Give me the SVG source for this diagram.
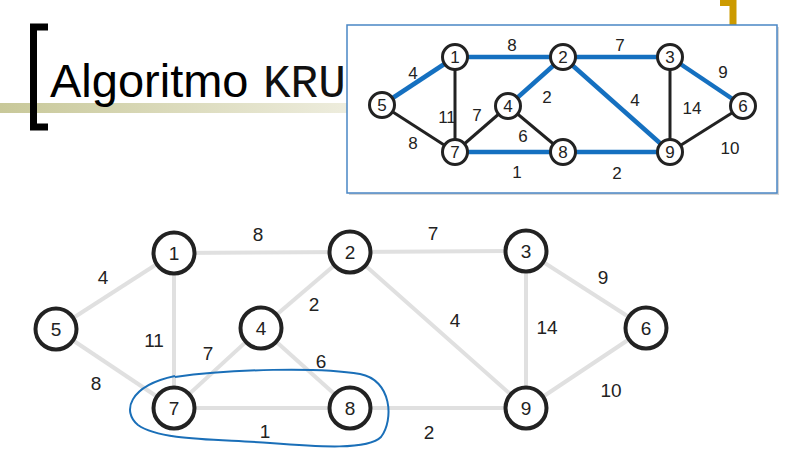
<svg xmlns="http://www.w3.org/2000/svg" width="787" height="467" viewBox="0 0 787 467">
<defs>
<linearGradient id="bar" x1="0" y1="0" x2="1" y2="0">
<stop offset="0" stop-color="#c8c899"/>
<stop offset="1" stop-color="#efeee0"/>
</linearGradient>
<style>
text{font-family:"Liberation Sans",Arial,sans-serif;fill:#222}
text.title{font-size:47px;fill:#000}
text.mono{font-family:"Liberation Mono","Courier New",monospace;font-size:46px;fill:#111}
.lbl{font-size:19px;text-anchor:middle}
.ilbl{font-size:17px;text-anchor:middle}
.e{stroke:#e0e0e0;stroke-width:4;fill:none}
.n circle{fill:#fff;stroke:#222;stroke-width:4}
.in circle{fill:#fff;stroke:#222;stroke-width:3}
.ib{stroke:#1570c0;stroke-width:4.5;fill:none}
.ik{stroke:#222;stroke-width:3;fill:none}
</style>
</defs>
<rect width="787" height="467" fill="#fff"/>
<!-- title -->
<rect x="0" y="103" width="360" height="10" fill="url(#bar)"/>
<path d="M48 27 H33.5 V127 H48" fill="none" stroke="#000" stroke-width="7"/>
<text class="title" x="50" y="97">Algoritmo</text>
<text class="mono" x="263" y="97">KRU</text>
<path d="M720 2.5 H733 V40" fill="none" stroke="#cc9a00" stroke-width="7"/>
<!-- inset box -->
<rect x="349" y="27" width="430" height="168" fill="#bbb" opacity="0.6"/>
<rect x="347" y="25" width="430" height="168" fill="#fff" stroke="#4a86c5" stroke-width="1.5"/>
<g id="inset-labels">
<text class="ilbl" x="512" y="51">8</text>
<text class="ilbl" x="620" y="51">7</text>
<text class="ilbl" x="413" y="79">4</text>
<text class="ilbl" x="723" y="78">9</text>
<text class="ilbl" x="547" y="103">2</text>
<text class="ilbl" x="635" y="106">4</text>
<text class="ilbl" x="692" y="114">14</text>
<text class="ilbl" x="447" y="123">11</text>
<text class="ilbl" x="477" y="121">7</text>
<text class="ilbl" x="523" y="142">6</text>
<text class="ilbl" x="413" y="149">8</text>
<text class="ilbl" x="730" y="154">10</text>
<text class="ilbl" x="517" y="178">1</text>
<text class="ilbl" x="617" y="179">2</text>
</g>
<g id="inset-connectors">
<line class="ik" x1="455" y1="57" x2="455" y2="152"/>
<line class="ik" x1="382" y1="105" x2="455" y2="152"/>
<line class="ik" x1="508" y1="106" x2="455" y2="152"/>
<line class="ik" x1="508" y1="106" x2="563" y2="152"/>
<line class="ik" x1="670" y1="57" x2="670" y2="152"/>
<line class="ik" x1="743" y1="106" x2="670" y2="152"/>
<line class="ib" x1="382" y1="105" x2="455" y2="57"/>
<line class="ib" x1="455" y1="57" x2="563" y2="57"/>
<line class="ib" x1="563" y1="57" x2="670" y2="57"/>
<line class="ib" x1="670" y1="57" x2="743" y2="106"/>
<line class="ib" x1="563" y1="57" x2="508" y2="106"/>
<line class="ib" x1="563" y1="57" x2="670" y2="152"/>
<line class="ib" x1="455" y1="152" x2="563" y2="152"/>
<line class="ib" x1="563" y1="152" x2="670" y2="152"/>
</g>
<g id="inset-n1" class="in"><circle cx="455" cy="57" r="12.5"/><text class="ilbl" x="455" y="63">1</text></g>
<g id="inset-n2" class="in"><circle cx="563" cy="57" r="12.5"/><text class="ilbl" x="563" y="63">2</text></g>
<g id="inset-n3" class="in"><circle cx="670" cy="57" r="12.5"/><text class="ilbl" x="670" y="63">3</text></g>
<g id="inset-n4" class="in"><circle cx="508" cy="106" r="12.5"/><text class="ilbl" x="508" y="112">4</text></g>
<g id="inset-n5" class="in"><circle cx="382" cy="105" r="12.5"/><text class="ilbl" x="382" y="111">5</text></g>
<g id="inset-n6" class="in"><circle cx="743" cy="106" r="12.5"/><text class="ilbl" x="743" y="112">6</text></g>
<g id="inset-n7" class="in"><circle cx="455" cy="152" r="12.5"/><text class="ilbl" x="455" y="158">7</text></g>
<g id="inset-n8" class="in"><circle cx="563" cy="152" r="12.5"/><text class="ilbl" x="563" y="158">8</text></g>
<g id="inset-n9" class="in"><circle cx="670" cy="152" r="12.5"/><text class="ilbl" x="670" y="158">9</text></g>
<!-- main graph -->
<g id="connectors">
<line class="e" x1="56" y1="329" x2="174" y2="253"/>
<line class="e" x1="174" y1="253" x2="350" y2="252"/>
<line class="e" x1="350" y1="252" x2="526" y2="251"/>
<line class="e" x1="526" y1="251" x2="646" y2="328"/>
<line class="e" x1="646" y1="328" x2="526" y2="408"/>
<line class="e" x1="526" y1="251" x2="526" y2="408"/>
<line class="e" x1="350" y1="252" x2="526" y2="408"/>
<line class="e" x1="350" y1="252" x2="261" y2="328"/>
<line class="e" x1="261" y1="328" x2="174" y2="408"/>
<line class="e" x1="261" y1="328" x2="350" y2="408"/>
<line class="e" x1="174" y1="253" x2="174" y2="408"/>
<line class="e" x1="56" y1="329" x2="174" y2="408"/>
<line class="e" x1="174" y1="408" x2="350" y2="408"/>
<line class="e" x1="350" y1="408" x2="526" y2="408"/>
</g>
<g id="edge-labels">
<text class="lbl" x="258" y="241">8</text>
<text class="lbl" x="433" y="240">7</text>
<text class="lbl" x="103" y="284">4</text>
<text class="lbl" x="314" y="311">2</text>
<text class="lbl" x="455" y="327">4</text>
<text class="lbl" x="547" y="334">14</text>
<text class="lbl" x="603" y="284">9</text>
<text class="lbl" x="154" y="347">11</text>
<text class="lbl" x="208" y="360">7</text>
<text class="lbl" x="321" y="368">6</text>
<text class="lbl" x="96" y="390">8</text>
<text class="lbl" x="265" y="438">1</text>
<text class="lbl" x="429" y="439">2</text>
<text class="lbl" x="611" y="397">10</text>
</g>
<g id="n1" class="n"><circle cx="174" cy="253" r="20.5"/><text class="lbl" x="174" y="260">1</text></g>
<g id="n2" class="n"><circle cx="350" cy="252" r="20.5"/><text class="lbl" x="350" y="259">2</text></g>
<g id="n3" class="n"><circle cx="526" cy="251" r="20.5"/><text class="lbl" x="526" y="258">3</text></g>
<g id="n4" class="n"><circle cx="261" cy="328" r="20.5"/><text class="lbl" x="261" y="335">4</text></g>
<g id="n5" class="n"><circle cx="56" cy="329" r="20.5"/><text class="lbl" x="56" y="336">5</text></g>
<g id="n6" class="n"><circle cx="646" cy="328" r="20.5"/><text class="lbl" x="646" y="335">6</text></g>
<g id="n7" class="n"><circle cx="174" cy="408" r="20.5"/><text class="lbl" x="174" y="415">7</text></g>
<g id="n8" class="n"><circle cx="350" cy="408" r="20.5"/><text class="lbl" x="350" y="415">8</text></g>
<g id="n9" class="n"><circle cx="526" cy="408" r="20.5"/><text class="lbl" x="526" y="415">9</text></g>
<path id="highlight" d="M175 377 C230 369,320 367,360 374 C392 380,394 420,381 437 C368 450,320 447,270 443 C220 439,160 441,138 425 C122 412,128 386,175 376" fill="none" stroke="#1a6fb8" stroke-width="2"/>
</svg>
